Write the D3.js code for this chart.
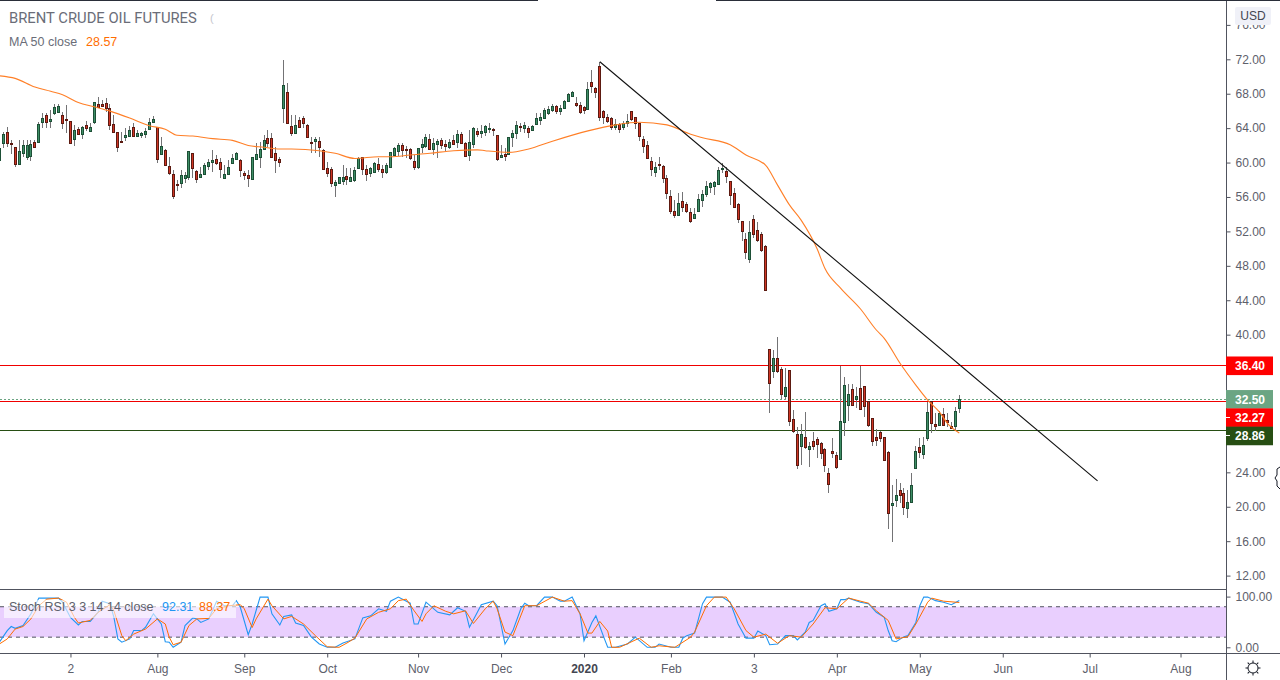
<!DOCTYPE html>
<html>
<head>
<meta charset="utf-8">
<title>Brent Crude Oil Futures</title>
<script src="https://d3js.org/d3.v7.min.js"></script>
<style>
html, body { margin: 0; padding: 0; background: #fff; }
svg { display: block; }
text { font-family: "Liberation Sans", sans-serif; }
</style>
</head>
<body>
<svg id="chart" width="1280" height="680"></svg>
<script>
var width = 1280, height = 680;

//Dados - candles, bar 0 is cut by the left edge
var highs = [62.15,
63.58,64.16,62.61,61.84,62.61,62.61,62.61,62.61,62.61,64.74,
65.71,65.71,66.10,66.80,66.80,65.90,66.64,64.86,64.35,64.08,
64.24,64.86,64.63,67.07,67.57,67.26,67.46,66.80,65.52,63.58,
63.58,63.97,64.24,64.55,63.77,63.58,63.97,65.13,65.40,64.16,
63.00,61.53,60.60,59.12,57.96,59.12,58.93,61.37,61.14,59.12,
59.51,59.90,60.36,61.45,60.87,60.48,59.70,60.29,60.98,61.25,
60.36,59.05,59.12,60.67,62.22,62.42,63.19,63.77,63.39,61.84,
60.67,71.91,69.20,65.52,65.52,65.32,65.40,64.47,62.92,63.00,63.00,
61.53,60.09,59.51,57.96,58.35,59.71,59.32,59.32,59.44,
60.60,60.68,59.71,59.51,60.09,60.48,59.71,59.90,61.26,61.84,
62.23,62.23,61.92,61.65,60.87,61.72,62.77,63.27,63.31,62.81,
62.69,62.81,62.61,62.69,63.20,63.78,63.58,62.42,63.78,64.09,
63.97,64.36,64.36,64.55,63.97,63.20,62.03,61.65,63.00,63.78,
64.82,64.55,64.75,64.24,64.36,65.72,65.72,66.30,66.57,66.80,
66.68,66.68,67.27,68.04,68.35,67.58,67.07,66.57,69.40,70.75,
68.82,71.72,66.10,65.64,65.33,65.06,64.55,64.86,65.60,66.03,
65.33,64.63,63.12,62.50,60.68,60.09,60.60,59.71,58.55,56.80,
55.64,56.41,56.57,55.44,54.67,54.67,56.34,56.80,57.89,57.77,
57.89,59.51,59.90,59.51,57.89,56.99,55.33,53.23,51.76,53.20,
53.89,53.04,51.96,50.41,38.29,38.21,39.69,36.28,36.08,35.89,
31.24,29.22,29.57,30.97,27.56,28.64,28.06,27.56,26.78,24.45,
28.02,26.39,36.39,35.04,34.26,34.26,33.87,36.39,34.03,32.32,
30.31,29.03,28.83,28.14,26.47,22.52,23.21,22.71,22.13,21.94,
23.87,27.05,28.02,28.14,32.21,32.28,30.85,31.12,31.43,30.85,
29.88,31.63,32.98];

var lows = [60.29,
61.72,61.84,60.98,59.51,59.70,60.67,60.29,60.17,61.64,62.30,
63.97,63.97,63.97,65.52,65.71,63.85,63.39,62.22,61.95,63.15,
62.69,63.70,63.70,64.47,66.41,66.41,65.90,63.77,63.58,61.25,
62.38,62.46,63.08,63.11,63.08,62.80,62.80,63.77,64.55,59.97,
60.87,59.63,58.54,55.79,56.68,56.99,57.65,57.96,58.15,57.57,
58.15,58.54,59.12,58.93,59.70,58.15,58.08,58.54,59.90,60.29,
58.35,57.96,57.18,57.96,60.29,59.32,61.45,61.84,60.60,58.81,
59.51,64.55,64.47,63.08,63.31,63.97,63.97,62.92,61.14,61.14,60.67,
59.13,58.35,57.19,56.03,57.50,57.38,57.38,57.77,57.77,
59.32,58.55,57.89,58.35,58.82,58.93,58.24,58.66,59.36,60.75,
60.75,60.68,60.48,60.29,59.13,59.28,61.06,61.65,61.45,60.87,
60.56,61.61,61.37,61.57,62.03,61.65,62.15,60.68,60.21,61.65,
63.00,62.89,63.08,63.39,63.08,60.21,60.60,60.21,60.87,61.84,
62.77,63.58,63.39,62.85,63.78,64.36,64.36,65.13,65.52,65.91,
65.60,65.52,66.26,67.15,67.65,66.49,65.64,65.64,66.10,68.12,
67.54,64.86,64.48,64.55,63.78,63.78,63.47,63.78,64.09,64.86,
63.89,62.50,61.14,60.48,58.43,58.35,59.13,57.65,55.79,54.01,
53.58,53.86,54.28,54.09,53.00,53.47,54.24,54.86,55.95,56.49,
56.22,57.46,58.74,57.65,55.06,54.79,53.00,50.91,48.82,48.35,
51.18,50.79,49.63,45.13,30.93,34.92,35.50,32.52,32.48,29.38,
28.52,24.38,24.84,26.70,24.65,26.59,25.62,25.50,24.07,21.63,
25.70,24.38,25.50,28.21,29.96,31.70,31.47,31.24,30.39,29.30,
27.05,27.05,27.56,25.35,17.40,15.89,20.00,20.46,19.03,18.72,
20.46,24.45,25.62,25.50,27.63,28.52,28.80,29.38,29.38,29.22,
29.07,28.83,30.85];

var opens = [60.29,
62.22,63.54,62.26,61.76,59.86,61.14,60.67,60.79,62.38,62.42,
64.74,65.52,64.86,65.71,65.90,65.48,65.05,64.82,62.77,63.85,
63.27,64.32,63.70,64.74,66.76,66.76,66.87,66.29,64.43,63.50,
62.49,63.00,63.11,64.12,63.11,63.23,63.27,63.85,64.74,64.08,
61.02,61.45,59.59,58.62,57.46,57.65,58.23,58.35,61.06,58.97,
58.35,58.62,59.63,60.01,60.36,60.01,58.23,58.66,59.98,60.44,
60.25,58.73,58.50,58.11,60.44,60.67,61.53,62.80,62.80,61.06,
60.40,66.37,68.15,64.20,63.46,64.94,65.13,64.32,62.38,62.53,62.46,
61.45,59.32,59.20,57.42,57.65,57.89,58.39,57.89,58.00,
59.40,60.60,59.20,58.82,58.93,59.79,59.20,58.93,59.44,60.91,
61.37,62.00,61.57,61.53,60.13,59.44,61.76,61.96,62.69,61.61,
62.19,62.58,62.11,61.76,62.58,62.42,63.27,62.23,60.91,62.19,
63.62,63.47,63.58,63.93,63.89,63.16,60.68,60.95,60.99,62.92,
63.39,64.24,63.97,63.97,63.82,64.51,64.98,65.21,65.79,66.14,
66.53,66.03,66.37,67.19,67.77,66.88,66.65,66.41,66.18,69.32,
68.66,71.18,65.99,65.25,65.13,64.17,64.44,64.17,64.63,65.95,
65.25,64.55,62.69,62.00,60.13,58.93,59.82,59.55,58.16,56.06,
54.32,53.93,55.48,55.13,54.20,53.58,54.32,55.68,56.37,57.19,
57.30,57.54,59.28,58.97,57.81,56.41,55.13,53.16,51.06,48.82,
53.39,52.11,51.65,50.25,38.29,35.81,37.25,35.97,32.83,35.85,
30.15,28.41,27.09,28.06,26.74,27.67,27.83,27.36,26.66,23.87,
26.43,25.97,25.58,29.88,31.78,33.64,32.56,33.76,33.99,32.25,
30.27,28.06,28.64,28.06,26.32,20.23,20.81,21.90,21.55,19.88,
20.58,24.53,26.90,26.08,28.02,32.25,29.61,29.49,30.73,30.04,
29.34,29.42,31.51];

var closes = [61.64,
63.31,62.22,62.18,59.86,61.29,62.03,62.03,62.15,61.76,64.47,
65.13,64.74,65.05,66.41,66.56,64.63,64.97,62.30,63.77,63.27,
64.16,64.05,64.08,67.03,66.49,66.60,66.37,64.32,63.58,61.84,
62.42,63.15,63.77,63.11,63.39,63.39,63.66,64.67,65.01,60.44,
61.91,59.74,58.81,56.14,57.34,58.50,58.50,61.33,59.39,58.11,
58.62,59.70,60.01,60.25,59.90,59.28,58.62,59.47,60.52,61.06,
59.16,58.58,58.23,60.60,60.94,61.56,62.57,62.30,60.67,60.29,
60.05,69.01,64.55,63.46,64.32,64.12,64.59,63.00,62.30,62.69,61.84,
59.20,58.82,57.65,57.73,58.27,58.27,58.12,58.27,59.13,
60.48,59.28,58.66,59.36,59.94,59.28,58.93,59.67,61.22,61.65,
62.00,61.49,61.49,60.56,59.51,61.65,62.11,62.92,61.61,62.23,
62.46,62.07,61.96,62.34,62.19,63.27,62.30,60.79,62.34,63.97,
63.35,63.66,64.20,64.01,63.82,60.44,60.83,60.79,62.92,63.39,
64.32,64.17,64.32,63.58,64.20,65.13,65.25,66.10,66.18,66.53,
66.03,66.30,67.15,67.92,68.20,66.65,65.91,66.14,68.51,68.85,
68.23,65.33,65.33,64.86,64.17,64.44,63.93,64.55,64.79,65.10,
64.55,63.12,61.96,60.56,59.28,59.47,59.75,58.24,56.49,54.40,
53.93,55.25,54.86,54.40,53.23,54.01,55.72,56.30,57.23,57.58,
57.73,59.09,59.36,58.47,56.26,54.86,53.39,52.07,49.63,51.88,
51.72,51.03,49.86,45.21,34.34,37.25,35.73,33.14,33.87,30.00,
28.76,24.88,28.41,26.97,27.01,27.09,27.32,26.28,24.88,22.67,
26.28,24.65,29.92,34.11,33.06,31.86,32.87,31.39,31.74,29.53,
27.67,27.79,28.02,25.46,19.30,20.42,21.32,21.39,20.00,20.50,
22.48,26.43,26.39,27.13,30.97,29.69,29.42,30.93,29.53,29.88,
29.18,31.08,32.50];

// MA 50 read at bar positions
var maIdx = [0,4,9,13,16,20,24,28,33,38,42,45,49,54,59,63,67,71,74,81,85,90,96,99,104,109,115,121,123,129,134,140,149,156,162,169,175,178,185,189,194,197,200,203,207,209,213,218,222,224,228,232,235,238,240,243];
var maVals = [70.08,69.78,68.78,68.28,67.88,66.98,66.48,65.98,65.18,64.28,63.88,63.18,63.08,62.78,62.58,61.98,61.78,61.58,61.58,61.38,61.08,60.48,60.68,60.68,60.88,61.08,61.38,61.48,61.38,61.18,61.58,62.48,63.68,64.38,64.68,64.38,63.28,62.88,62.08,60.88,59.68,57.38,55.08,53.28,49.98,47.68,45.38,42.98,40.54,39.57,36.67,34.14,32.40,31.00,29.69,28.57];

// Stoch RSI
var kIdx = [0,2,3,4,6,8,10,12,15,16,18,20,21,23,25,26,28,29,30,31,33,34,36,37,39,41,42,43,44,46,47,49,50,51,53,55,57,59,60,61,63,64,66,68,69,71,72,74,75,77,79,81,83,
85,87,90,92,94,96,98,99,101,104,105,106,108,111,114,116,118,119,121,122,125,126,128,130,132,133,134,136,138,140,142,143,145,147,148,150,151,153,154,156,159,161,164,166,
167,170,172,173,174,176,178,179,181,183,185,187,189,191,192,194,195,197,199,201,202,204,205,206,208,209,210,212,213,214,215,218,220,222,224,225,226,227,229,230,232,233,234,235,237,239,241,243];
var kVals = [10,33,41,37.5,43,66,97,97,97,89,59,44,51,51,69,91,86,59,16.5,10,16.5,33,33,39.5,66,46,11,10,0,10,43,58,56,49,56,91,82,82,92,79,25,46,99,99,66,44,61,64,48,43,20,6.5,0,
0,8.5,16.5,58,62,76,71,91,99,87,46,46,89,69,64,78,71,39.5,69,84,91,82,6.5,33,76,87,82,82,99,99,91,91,99,66,13,49,62,20,0,0,6.5,20,0,0,
6.5,0,0,18,23,28,86,99,99,99,89,46,18,18,32,23,5,6.5,23,23,14.5,30,49,53,82,86,71,76,94,94,97,89,86,69,59,33,13,11,21,23,49,82,99,99,92,89,84,92.31];
var dIdx = [0,2,4,6,8,10,12,15,17,19,20,23,25,28,29,31,32,34,37,40,42,43,44,46,48,50,53,55,58,61,62,64,65,68,69,72,74,77,80,83,
86,88,90,93,96,99,101,103,105,107,108,110,113,115,118,120,123,125,126,128,130,133,136,140,143,145,147,149,150,152,154,155,157,162,165,167,
171,175,176,179,181,184,186,189,191,194,197,200,203,206,209,212,215,220,222,225,227,230,232,235,236,239,243];
var dVals = [6.5,16.5,36,41,56,82,95,97,89,59,48,53,69,84,72,23,13,26,36,56,46,20,5,10,43,56,57,76,82,84,76,39,56,95,82,56,61,46,23,1,
0,8.5,18,56,69,76,92,95,72,51,66,82,71,66,72,47,76,91,76,30,23,82,82,99,91,92,66,28,28,51,32,0,0,18,0,3,
0,20,30,82,99,99,76,33,20,26,8,23,20,46,78,76,97,87,72,53,16.5,21,46,89,97,91,88.37];

// Axis ticks, 36 32 and 28 are under the price tags
var priceTicks = [76,72,68,64,60,56,52,48,44,40,24,20,16,12];
var stochTicks = [100,0];
var timeTickIdx = [18,40,62,83,106,127,148,170,191,212,233,254,276,299];
var timeTickLabels = ["2","Aug","Sep","Oct","Nov","Dec","2020","Feb","3","Apr","May","Jun","Jul","Aug"];

// Trend line and horizontal levels
var trendIdx = [152,278];
var trendVals = [71.72,23.0];
var levelVals = [36.40,32.27,28.86];
var levelColors = ["#f00000","#f00000","#274e13"];
var lastPrice = 32.50;
var tagVals = [36.40,32.50,32.27,28.86];
var tagColors = ["#ff0000","#6ba583","#ff0000","#274e13"];

var axisColor = "#50535e", textColor = "#5d606b";
var upFill = "#3e8e66", upLine = "#1d4f36", downFill = "#cf3524", downLine = "#5c1a11";

var bars = d3.range(highs.length);
var paneRight = 1226;

//Escalas
var xScale = d3.scaleLinear().domain([1,243]).range([3.3,959.3]);
var yScale = d3.scaleLinear().domain([72,12]).range([59.3,575.6]);
var stochY = d3.scaleLinear().domain([100,0]).range([596.6,647.3]);

var svg = d3.select("#chart");

svg.append("clipPath").attr("id","mainClip").append("rect")
    .attr("x",0).attr("y",0).attr("width",paneRight).attr("height",589);
svg.append("clipPath").attr("id","stochClip").append("rect")
    .attr("x",0).attr("y",590).attr("width",paneRight).attr("height",63);

var mainPane = svg.append("g").attr("clip-path","url(#mainClip)");
var stochPane = svg.append("g").attr("clip-path","url(#stochClip)");

// horizontal levels behind the candles
mainPane.selectAll(".level").data(levelVals).enter().append("line")
    .attr("class","level")
    .attr("x1",0).attr("x2",paneRight)
    .attr("y1",d=>Math.floor(yScale(d))+0.5).attr("y2",d=>Math.floor(yScale(d))+0.5)
    .attr("stroke",(d,i)=>levelColors[i]);
mainPane.append("line")
    .attr("x1",0).attr("x2",paneRight)
    .attr("y1",Math.floor(yScale(lastPrice))+0.5).attr("y2",Math.floor(yScale(lastPrice))+0.5)
    .attr("stroke","#6ba583").attr("stroke-dasharray","2,2");

// candles
var px = i => Math.floor(xScale(i))+0.5;
var candle = mainPane.selectAll(".candle").data(bars).enter().append("g").attr("class","candle");
candle.append("line")
    .attr("x1",px).attr("x2",px)
    .attr("y1",i=>Math.round(yScale(highs[i]))).attr("y2",i=>Math.round(yScale(lows[i])))
    .attr("stroke","#737375");
candle.append("rect")
    .attr("x",i=>px(i)-1)
    .attr("width",2)
    .attr("y",i=>Math.round(yScale(Math.max(opens[i],closes[i])))+0.5)
    .attr("height",i=>Math.max(1,Math.round(yScale(Math.min(opens[i],closes[i])))-Math.round(yScale(Math.max(opens[i],closes[i])))))
    .attr("fill",i=>closes[i]>=opens[i]?upFill:downFill)
    .attr("stroke",i=>closes[i]>=opens[i]?upLine:downLine);

// MA 50
var maLine = d3.line().x(d=>xScale(d[0])).y(d=>yScale(d[1])).curve(d3.curveMonotoneX);
mainPane.append("path")
    .datum(d3.zip(maIdx,maVals))
    .attr("d",maLine)
    .attr("fill","none").attr("stroke","#ff7f27").attr("stroke-width",1.1);

// trend line
var trendLine = d3.line().x(d=>xScale(d[0])).y(d=>yScale(d[1]));
mainPane.append("path")
    .datum(d3.zip(trendIdx,trendVals))
    .attr("d",trendLine)
    .attr("fill","none").attr("stroke","#111").attr("stroke-width",1.1);

//Stoch RSI
stochPane.append("rect")
    .attr("x",0).attr("width",paneRight)
    .attr("y",stochY(80)).attr("height",stochY(20)-stochY(80))
    .attr("fill","#e9cffe");
stochPane.selectAll(".band").data([80,20]).enter().append("line")
    .attr("class","band")
    .attr("x1",0).attr("x2",paneRight)
    .attr("y1",d=>stochY(d)).attr("y2",d=>stochY(d))
    .attr("stroke","#50535e").attr("stroke-dasharray","4,4");

var stochLine = d3.line().x(d=>xScale(d[0])).y(d=>stochY(d[1]));
stochPane.append("path")
    .datum(d3.zip(kIdx,kVals))
    .attr("d",stochLine)
    .attr("fill","none").attr("stroke","#2196f3").attr("stroke-width",1.1);
stochPane.append("path")
    .datum(d3.zip(dIdx,dVals))
    .attr("d",stochLine)
    .attr("fill","none").attr("stroke","#ff6d00").attr("stroke-width",1);

// legend of the lower pane sits on a see-through box
stochPane.append("rect")
    .attr("x",4).attr("y",600).attr("width",232).attr("height",18)
    .attr("fill","#fff").attr("opacity",0.6);
svg.append("text").attr("x",9).attr("y",611).attr("font-size",12.5).attr("fill",textColor)
    .text("Stoch RSI 3 3 14 14 close");
svg.append("text").attr("x",162).attr("y",611).attr("font-size",12.5).attr("fill","#2196f3")
    .text(kVals[kVals.length-1].toFixed(2));
svg.append("text").attr("x",199).attr("y",611).attr("font-size",12.5).attr("fill","#ff6d00")
    .text(dVals[dVals.length-1].toFixed(2));

//Eixos
var yAxis = d3.axisRight(yScale)
    .tickValues(priceTicks).tickSize(4).tickPadding(5)
    .tickFormat(d3.format(".2f"));
var yAxisGroup = svg.append("g")
    .attr("class","yAxis")
    .attr("transform","translate("+(paneRight+0.5)+",0)")
    .call(yAxis);

var stochAxis = d3.axisRight(stochY)
    .tickValues(stochTicks).tickSize(4).tickPadding(5)
    .tickFormat(d3.format(".2f"));
var stochAxisGroup = svg.append("g")
    .attr("class","stochAxis")
    .attr("transform","translate("+(paneRight+0.5)+",0)")
    .call(stochAxis);

var xAxis = d3.axisBottom(xScale)
    .tickValues(timeTickIdx).tickSize(4).tickPadding(7)
    .tickFormat((d,i)=>timeTickLabels[i]);
var xAxisGroup = svg.append("g")
    .attr("class","xAxis")
    .attr("transform","translate(0,653.5)")
    .call(xAxis);

[yAxisGroup,stochAxisGroup,xAxisGroup].forEach(function(g){
    g.select(".domain").remove();
    g.selectAll("line").attr("stroke",axisColor);
    g.selectAll("text").attr("fill",textColor).attr("font-size",12)
        .style("font-family",'"Liberation Sans", sans-serif');
});
xAxisGroup.selectAll("text").filter(d=>d===148).attr("fill","#434651").attr("font-weight","bold");

// frame lines
svg.append("line").attr("x1",paneRight+0.5).attr("x2",paneRight+0.5).attr("y1",0).attr("y2",height).attr("stroke",axisColor);
svg.append("line").attr("x1",0).attr("x2",paneRight).attr("y1",589.5).attr("y2",589.5).attr("stroke",axisColor);
svg.append("line").attr("x1",0).attr("x2",width).attr("y1",653.5).attr("y2",653.5).attr("stroke",axisColor);
svg.append("line").attr("x1",0).attr("x2",538).attr("y1",0.5).attr("y2",0.5).attr("stroke","#2a2e39");
svg.append("line").attr("x1",716).attr("x2",width).attr("y1",0.5).attr("y2",0.5).attr("stroke","#2a2e39");

// price tags, pushed down so they do not overlap
var tagH = 18.3, lastY = -100;
tagVals.forEach(function(v,i){
    var cy = Math.max(yScale(v),lastY+tagH);
    lastY = cy;
    svg.append("rect")
        .attr("x",paneRight).attr("y",cy-tagH/2).attr("width",47).attr("height",tagH+0.3)
        .attr("fill",tagColors[i]);
    svg.append("text")
        .attr("x",paneRight+9).attr("y",cy+4.5)
        .attr("font-size",12).attr("font-weight","bold").attr("fill","#fff")
        .text(v.toFixed(2));
    if (cy-yScale(v)>5) {
        svg.append("line").attr("x1",paneRight).attr("x2",paneRight+4)
            .attr("y1",Math.floor(cy)+0.5).attr("y2",Math.floor(cy)+0.5).attr("stroke","#fff");
    }
});

// currency box over the top tick
svg.append("rect").attr("x",1235).attr("y",7).attr("width",36).attr("height",18).attr("rx",2)
    .attr("fill","#f0f1f8");
svg.append("text").attr("x",1253).attr("y",20).attr("text-anchor","middle")
    .attr("font-size",12).attr("fill","#434651").text("USD");

//Legend
svg.append("text").attr("x",9).attr("y",23).attr("font-size",14.8).attr("fill","#6a6d78")
    .style("font-family","Roboto, sans-serif")
    .text("BRENT CRUDE OIL FUTURES");
svg.append("text").attr("x",210).attr("y",22).attr("font-size",11).attr("fill","#c4c6ce").text("(");
svg.append("text").attr("x",9).attr("y",46).attr("font-size",12.5).attr("fill","#6a6d78")
    .text("MA 50 close");
svg.append("text").attr("x",86).attr("y",46).attr("font-size",12.5).attr("fill","#ff6d00")
    .text(maVals[maVals.length-1].toFixed(2));

// settings icon and the cursor cut off by the right edge
var gear = svg.append("g").attr("transform","translate(1253,668)");
gear.append("circle").attr("r",5).attr("fill","none").attr("stroke","#131722");
gear.selectAll("line").data(d3.range(8)).enter().append("line")
    .attr("x1",0).attr("x2",0).attr("y1",-5).attr("y2",-7.5)
    .attr("transform",d=>"rotate("+(d*45)+")")
    .attr("stroke","#131722");
svg.append("path")
    .attr("d","M1280,467 L1277,469 L1277,475 L1275,478 L1277,481 L1277,486 L1280,489")
    .attr("fill","none").attr("stroke","#131722");
</script>
</body>
</html>
